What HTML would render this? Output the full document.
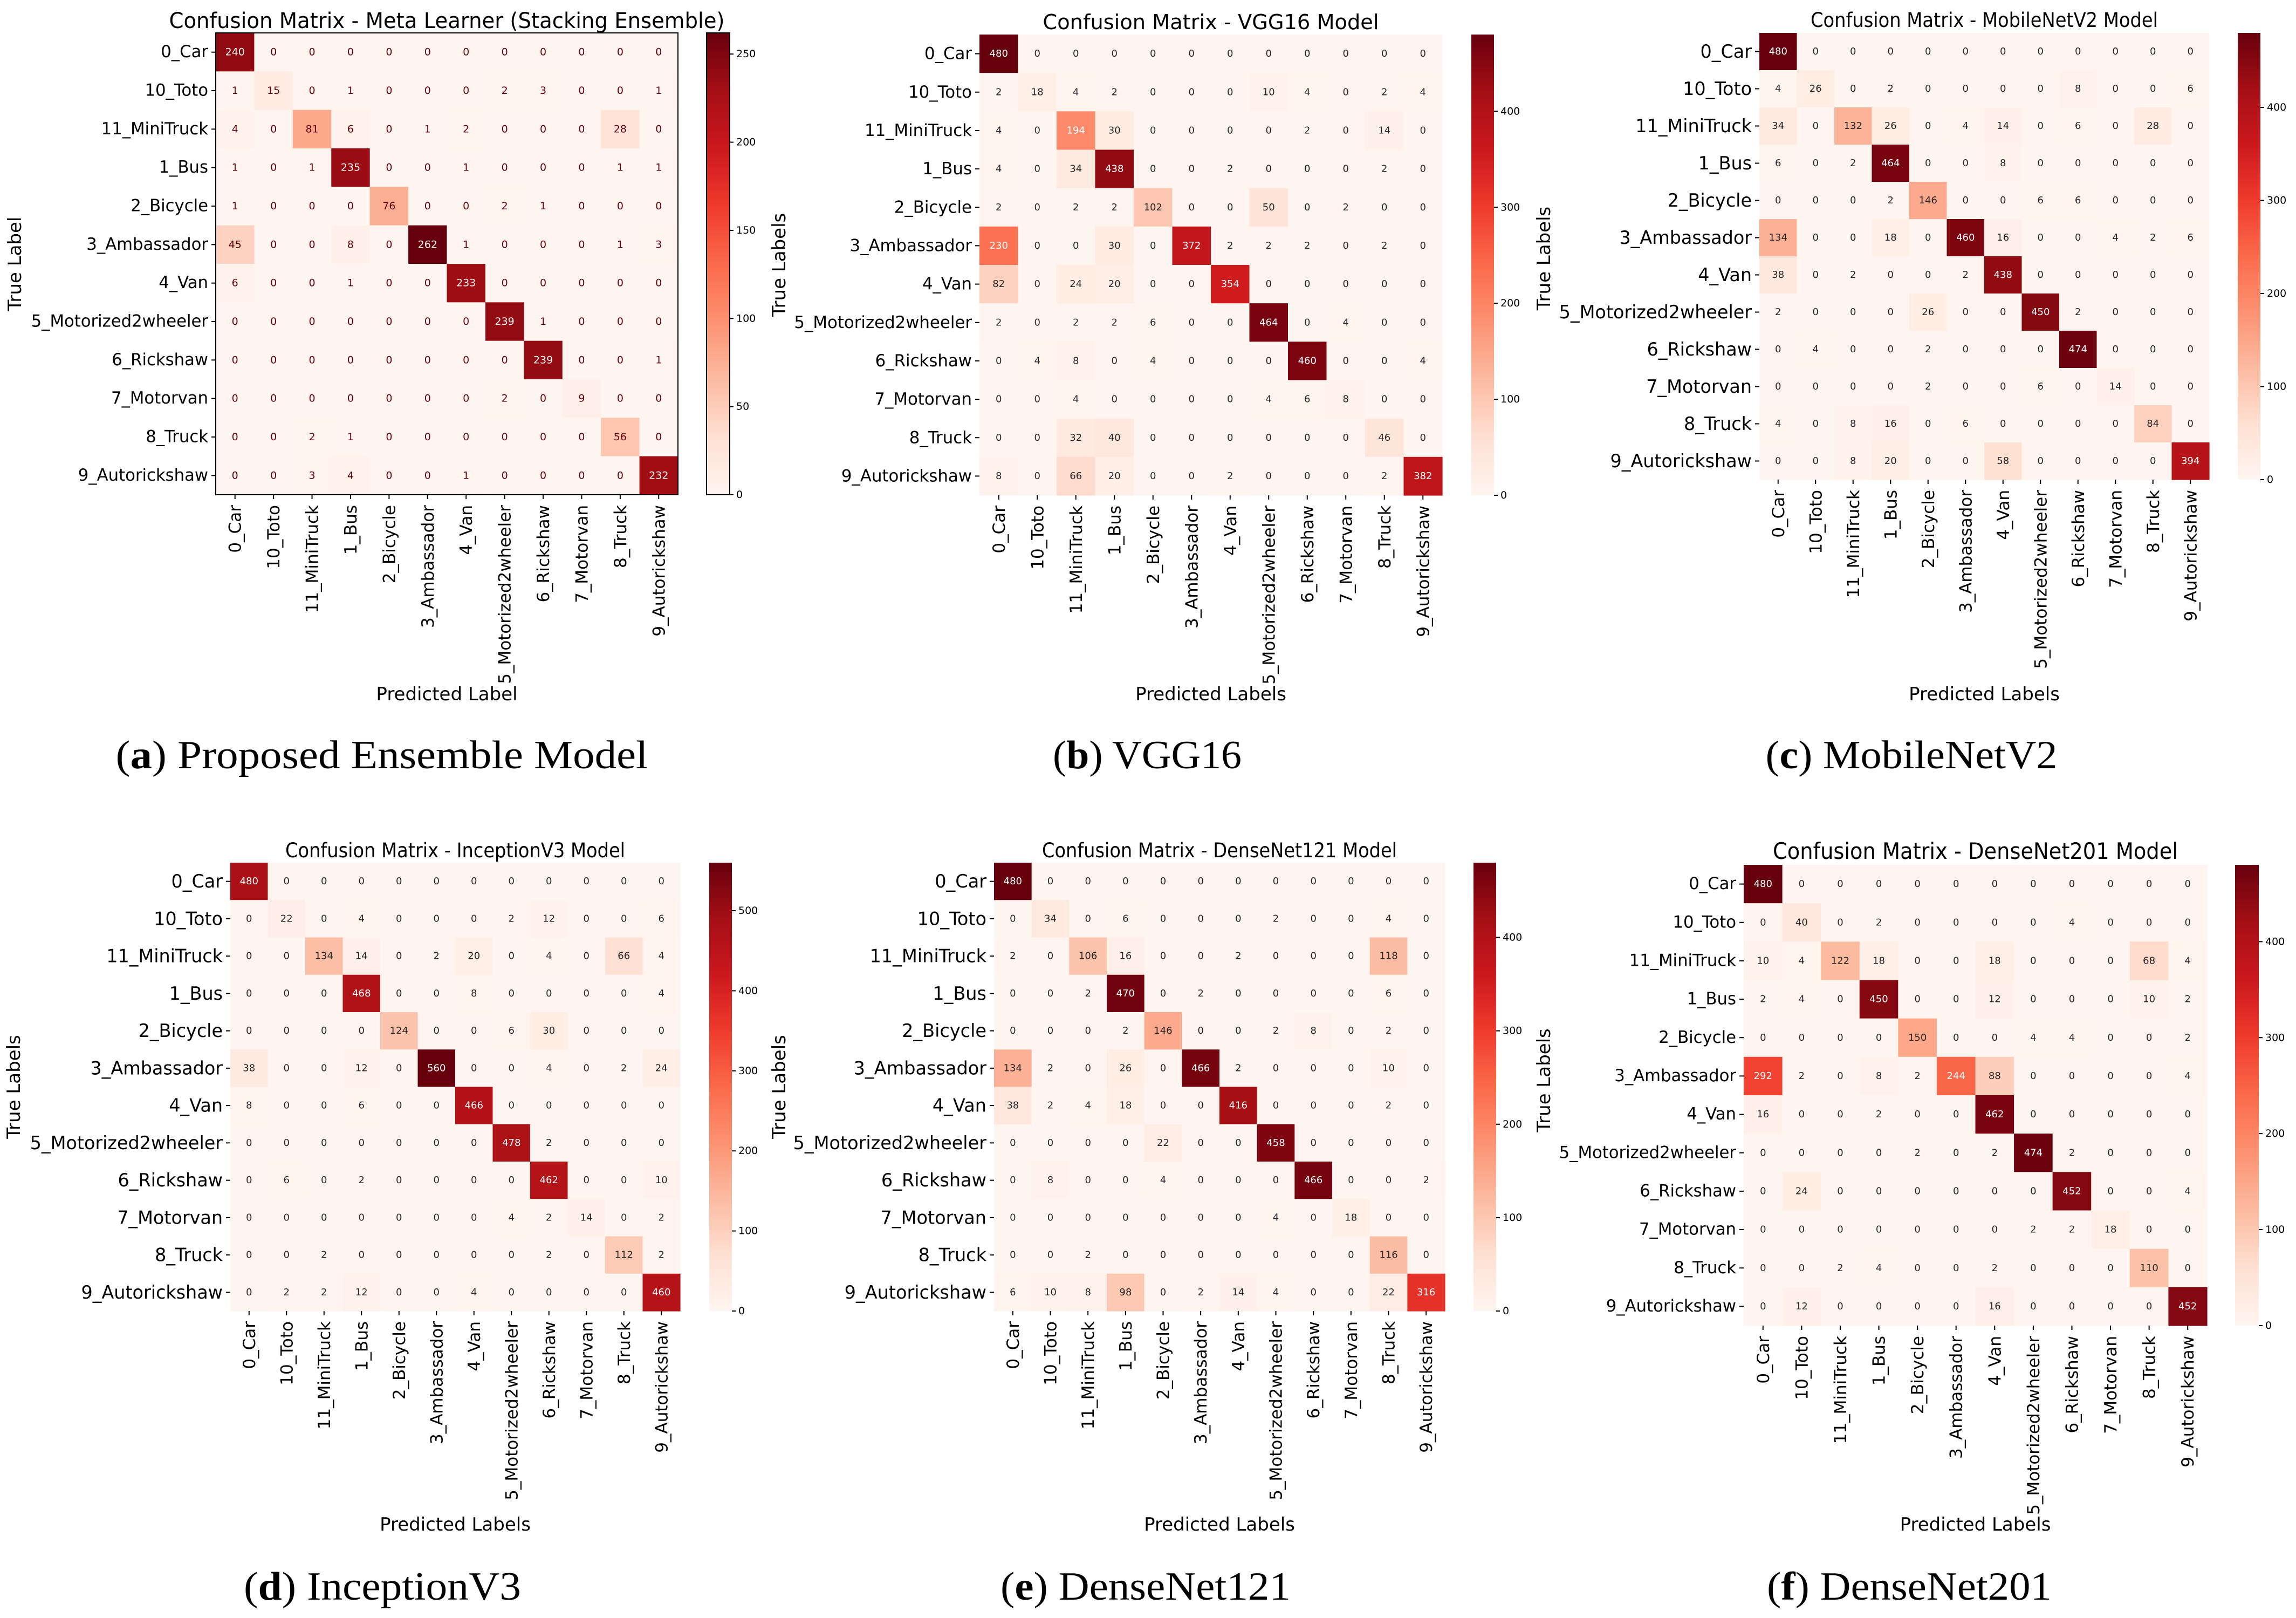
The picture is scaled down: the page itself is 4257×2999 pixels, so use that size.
<!DOCTYPE html>
<html><head><meta charset="utf-8"><title>Confusion matrices</title>
<style>html,body{margin:0;padding:0;background:#fff}svg{display:block}</style></head>
<body>
<svg id="fig" xmlns="http://www.w3.org/2000/svg" width="4257" height="2999" viewBox="0 0 4257 2999">
<defs>
<linearGradient id="reds" x1="0" y1="1" x2="0" y2="0">
<stop offset="0" stop-color="#fff5f0"/><stop offset="0.125" stop-color="#fee0d2"/><stop offset="0.25" stop-color="#fcbba1"/><stop offset="0.375" stop-color="#fc9272"/><stop offset="0.5" stop-color="#fb6a4a"/><stop offset="0.625" stop-color="#ef3b2c"/><stop offset="0.75" stop-color="#cb181d"/><stop offset="0.875" stop-color="#a50f15"/><stop offset="1" stop-color="#67000d"/>
</linearGradient>
</defs>
</svg>
<script>
const classLabels = ["0_Car","10_Toto","11_MiniTruck","1_Bus","2_Bicycle","3_Ambassador","4_Van","5_Motorized2wheeler","6_Rickshaw","7_Motorvan","8_Truck","9_Autorickshaw"];
const matrixA = [
[240,0,0,0,0,0,0,0,0,0,0,0],[1,15,0,1,0,0,0,2,3,0,0,1],[4,0,81,6,0,1,2,0,0,0,28,0],[1,0,1,235,0,0,1,0,0,0,1,1],
[1,0,0,0,76,0,0,2,1,0,0,0],[45,0,0,8,0,262,1,0,0,0,1,3],[6,0,0,1,0,0,233,0,0,0,0,0],[0,0,0,0,0,0,0,239,1,0,0,0],
[0,0,0,0,0,0,0,0,239,0,0,1],[0,0,0,0,0,0,0,2,0,9,0,0],[0,0,2,1,0,0,0,0,0,0,56,0],[0,0,3,4,0,0,1,0,0,0,0,232]];
const matrixB = [
[480,0,0,0,0,0,0,0,0,0,0,0],[2,18,4,2,0,0,0,10,4,0,2,4],[4,0,194,30,0,0,0,0,2,0,14,0],[4,0,34,438,0,0,2,0,0,0,2,0],
[2,0,2,2,102,0,0,50,0,2,0,0],[230,0,0,30,0,372,2,2,2,0,2,0],[82,0,24,20,0,0,354,0,0,0,0,0],[2,0,2,2,6,0,0,464,0,4,0,0],
[0,4,8,0,4,0,0,0,460,0,0,4],[0,0,4,0,0,0,0,4,6,8,0,0],[0,0,32,40,0,0,0,0,0,0,46,0],[8,0,66,20,0,0,2,0,0,0,2,382]];
const matrixC = [
[480,0,0,0,0,0,0,0,0,0,0,0],[4,26,0,2,0,0,0,0,8,0,0,6],[34,0,132,26,0,4,14,0,6,0,28,0],[6,0,2,464,0,0,8,0,0,0,0,0],
[0,0,0,2,146,0,0,6,6,0,0,0],[134,0,0,18,0,460,16,0,0,4,2,6],[38,0,2,0,0,2,438,0,0,0,0,0],[2,0,0,0,26,0,0,450,2,0,0,0],
[0,4,0,0,2,0,0,0,474,0,0,0],[0,0,0,0,2,0,0,6,0,14,0,0],[4,0,8,16,0,6,0,0,0,0,84,0],[0,0,8,20,0,0,58,0,0,0,0,394]];
const matrixD = [
[480,0,0,0,0,0,0,0,0,0,0,0],[0,22,0,4,0,0,0,2,12,0,0,6],[0,0,134,14,0,2,20,0,4,0,66,4],[0,0,0,468,0,0,8,0,0,0,0,4],
[0,0,0,0,124,0,0,6,30,0,0,0],[38,0,0,12,0,560,0,0,4,0,2,24],[8,0,0,6,0,0,466,0,0,0,0,0],[0,0,0,0,0,0,0,478,2,0,0,0],
[0,6,0,2,0,0,0,0,462,0,0,10],[0,0,0,0,0,0,0,4,2,14,0,2],[0,0,2,0,0,0,0,0,2,0,112,2],[0,2,2,12,0,0,4,0,0,0,0,460]];
const matrixE = [
[480,0,0,0,0,0,0,0,0,0,0,0],[0,34,0,6,0,0,0,2,0,0,4,0],[2,0,106,16,0,0,2,0,0,0,118,0],[0,0,2,470,0,2,0,0,0,0,6,0],
[0,0,0,2,146,0,0,2,8,0,2,0],[134,2,0,26,0,466,2,0,0,0,10,0],[38,2,4,18,0,0,416,0,0,0,2,0],[0,0,0,0,22,0,0,458,0,0,0,0],
[0,8,0,0,4,0,0,0,466,0,0,2],[0,0,0,0,0,0,0,4,0,18,0,0],[0,0,2,0,0,0,0,0,0,0,116,0],[6,10,8,98,0,2,14,4,0,0,22,316]];
const matrixF = [
[480,0,0,0,0,0,0,0,0,0,0,0],[0,40,0,2,0,0,0,0,4,0,0,0],[10,4,122,18,0,0,18,0,0,0,68,4],[2,4,0,450,0,0,12,0,0,0,10,2],
[0,0,0,0,150,0,0,4,4,0,0,2],[292,2,0,8,2,244,88,0,0,0,0,4],[16,0,0,2,0,0,462,0,0,0,0,0],[0,0,0,0,2,0,2,474,2,0,0,0],
[0,24,0,0,0,0,0,0,452,0,0,4],[0,0,0,0,0,0,0,2,2,18,0,0],[0,0,2,4,0,0,2,0,0,0,110,0],[0,12,0,0,0,0,16,0,0,0,0,452]];
const cbTicksA = [0,50,100,150,200,250];
const cbTicksB = [0,100,200,300,400];
const cbTicksC = [0,100,200,300,400];
const cbTicksD = [0,100,200,300,400,500];
const cbTicksE = [0,100,200,300,400];
const cbTicksF = [0,100,200,300,400];
const titles = ["Confusion Matrix - Meta Learner (Stacking Ensemble)","Confusion Matrix - VGG16 Model","Confusion Matrix - MobileNetV2 Model","Confusion Matrix - InceptionV3 Model","Confusion Matrix - DenseNet121 Model","Confusion Matrix - DenseNet201 Model"];
const captionLetters = ["a","b","c","d","e","f"];
const captionNames = ["Proposed Ensemble Model","VGG16","MobileNetV2","InceptionV3","DenseNet121","DenseNet201"];

const NS = "http://www.w3.org/2000/svg";
const svg = document.getElementById('fig');
const REDS = ["#fff5f0","#fee0d2","#fcbba1","#fc9272","#fb6a4a","#ef3b2c","#cb181d","#a50f15","#67000d"];
function hex(c){return [parseInt(c.substr(1,2),16),parseInt(c.substr(3,2),16),parseInt(c.substr(5,2),16)];}
function reds(t){
  t=Math.max(0,Math.min(1,t));
  const p=t*8, i=Math.min(7,Math.floor(p)), f=p-i;
  const a=hex(REDS[i]), b=hex(REDS[i+1]);
  return "rgb("+a.map((v,k)=>Math.round(v+(b[k]-v)*f)).join(",")+")";
}
function mk(tag, attrs, parent){
  const e=document.createElementNS(NS,tag);
  for(const k in attrs) e.setAttribute(k,attrs[k]);
  (parent||svg).appendChild(e);
  return e;
}
const DV = '"DejaVu Sans", "Liberation Sans", sans-serif';

const panels = [
 {m:matrixA, ticks:cbTicksA, style:"sk", x0:400,x1:1257,y0:61,y1:917, cb0:1310,cb1:1353, yf:30.7, cf:19, tf:40, tw:1030, ty:52, xlab:"Predicted Label", ylab:"True Label", ylx:27, xly:1298, cx:708, cw:987, cy:1424},
 {m:matrixB, ticks:cbTicksB, style:"sns", x0:1816,x1:2674,y0:64,y1:918, cb0:2728,cb1:2770, yf:30.8, cf:18, tf:38, tw:623, ty:54, xlab:"Predicted Labels", ylab:"True Labels", ylx:1444, xly:1298, cx:2127, cw:350, cy:1424, cblab:2862},
 {m:matrixC, ticks:cbTicksC, style:"sns", x0:3262,x1:4096,y0:61,y1:889, cb0:4149,cb1:4191, yf:33.4, cf:18, tf:37, tw:644, ty:50, xlab:"Predicted Labels", ylab:null, xly:1298, cx:3544, cw:541, cy:1424},
 {m:matrixD, ticks:cbTicksD, style:"sns", x0:427,x1:1261,y0:1599,y1:2430, cb0:1315,cb1:1357, yf:33.4, cf:18, tf:37, tw:630, ty:1589, xlab:"Predicted Labels", ylab:"True Labels", ylx:25, xly:2837, cx:709, cw:514, cy:2965},
 {m:matrixE, ticks:cbTicksE, style:"sns", x0:1843,x1:2679,y0:1599,y1:2430, cb0:2732,cb1:2774, yf:33.5, cf:18, tf:37, tw:658, ty:1589, xlab:"Predicted Labels", ylab:"True Labels", ylx:1444, xly:2837, cx:2124, cw:538, cy:2965, cblab:2862},
 {m:matrixF, ticks:cbTicksF, style:"sns", x0:3233,x1:4092,y0:1603,y1:2457, cb0:4144,cb1:4188, yf:30.7, cf:18, tf:42, tw:751, ty:1592, xlab:"Predicted Labels", ylab:null, xly:2837, cx:3540, cw:528, cy:2965}
];

panels.forEach((P,pi)=>{
  const g=mk('g',{});
  
  
  const n=classLabels.length;
  const vmax=Math.max(...P.m.map(r=>Math.max(...r)));
  const xs=j=>P.x0+(P.x1-P.x0)*j/n;
  const ys=i=>P.y0+(P.y1-P.y0)*i/n;
  const cw=(P.x1-P.x0)/n, ch=(P.y1-P.y0)/n;
  // cells
  P.m.forEach((row,i)=>row.forEach((v,j)=>{
    const r=mk('rect',{x:xs(j),y:ys(i),width:cw+0.6,height:ch+0.6,fill:reds(v/vmax)},g);
    
    
    let col;
    if(P.style==="sk") col = v < vmax/2 ? "#67000d" : "#fff5f0";
    else col = v/vmax > 0.37 ? "#ffffff" : "#262626";
    const t=mk('text',{x:xs(j)+cw/2,y:ys(i)+ch/2,'text-anchor':'middle','dominant-baseline':'central','font-family':DV,'font-size':P.cf,fill:col},g);
    t.textContent=v;
    
    
  }));
  if(P.style==="sk"){
    const f=mk('rect',{x:P.x0,y:P.y0,width:P.x1-P.x0,height:P.y1-P.y0,fill:'none',stroke:'#000','stroke-width':2},g);
    
    
  }
  // y ticks
  classLabels.forEach((lab,i)=>{
    const cy=ys(i)+ch/2;
    mk('line',{x1:P.x0-8,x2:P.x0,y1:cy,y2:cy,stroke:'#000','stroke-width':2},g);
    const t=mk('text',{x:P.x0-14,y:cy,'text-anchor':'end','dominant-baseline':'central','font-family':DV,'font-size':P.yf,fill:'#000'},g);
    t.textContent=lab;
    
    
  });
  // x ticks
  classLabels.forEach((lab,j)=>{
    const cx=xs(j)+cw/2;
    mk('line',{x1:cx,x2:cx,y1:P.y1,y2:P.y1+8,stroke:'#000','stroke-width':2},g);
    const t=mk('text',{transform:'translate('+(cx+11)+','+(P.y1+19)+') rotate(-90)','text-anchor':'end','font-family':DV,'font-size':31,fill:'#000'},g);
    t.textContent=lab;
    
    
  });
  // colorbar
  const cb=mk('rect',{x:P.cb0,y:P.y0,width:P.cb1-P.cb0,height:P.y1-P.y0,fill:'url(#reds)',stroke:P.style==="sk"?'#000':'none','stroke-width':2},g);
  
  
  P.ticks.forEach(tv=>{
    const y=P.y1-(P.y1-P.y0)*tv/vmax;
    mk('line',{x1:P.cb1,x2:P.cb1+7,y1:y,y2:y,stroke:'#000','stroke-width':2},g);
    const t=mk('text',{x:P.cb1+12,y:y,'dominant-baseline':'central','font-family':DV,'font-size':19,fill:'#000'},g);
    t.textContent=tv;
    
    
  });
  // title
  const tt=mk('text',{x:(P.x0+P.x1)/2,y:P.ty,'text-anchor':'middle','font-family':DV,'font-size':P.tf,textLength:P.tw,lengthAdjust:'spacingAndGlyphs',fill:'#000'},g);
  tt.textContent=titles[pi];
  
  
  // x label
  const xl=mk('text',{x:(P.x0+P.x1)/2,y:P.xly,'text-anchor':'middle','font-family':DV,'font-size':34,fill:'#000'},g);
  xl.textContent=P.xlab;
  
  
  if(P.ylab){
    const yl=mk('text',{transform:'translate('+(P.ylx+12)+','+((P.y0+P.y1)/2)+') rotate(-90)','text-anchor':'middle','font-family':DV,'font-size':34,fill:'#000'},g);
    yl.textContent=P.ylab;
    
    
  }
  if(P.cblab){
    const cl=mk('text',{transform:'translate('+(P.cblab+12)+','+((P.y0+P.y1)/2-12)+') rotate(-90)','text-anchor':'middle','font-family':DV,'font-size':34,fill:'#000'},g);
    cl.textContent="True Labels";
    
    
  }
  // caption
  const cap=mk('text',{x:P.cx,y:P.cy,'text-anchor':'middle','font-family':'"Liberation Serif", serif','font-size':74,textLength:P.cw,lengthAdjust:'spacingAndGlyphs',fill:'#000'},g);
  
  
  const s1=mk('tspan',{},cap); s1.textContent="(";
  const s2=mk('tspan',{'font-weight':'bold'},cap); s2.textContent=captionLetters[pi];
  const s3=mk('tspan',{},cap); s3.textContent=") "+captionNames[pi];
});
</script>
</body></html>
